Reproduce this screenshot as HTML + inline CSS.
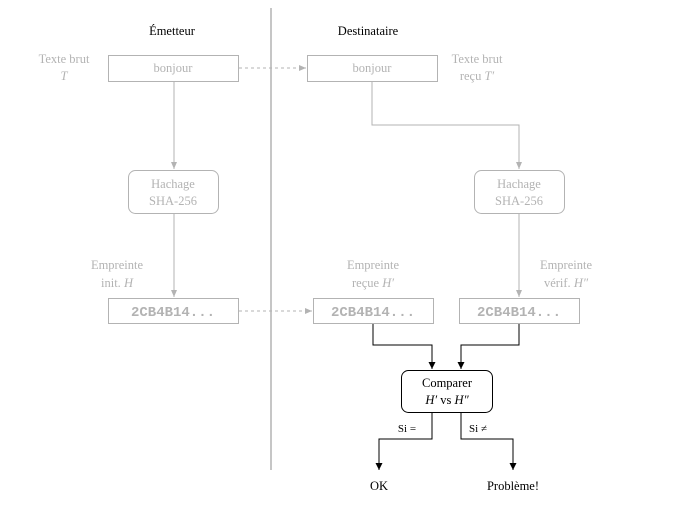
<!DOCTYPE html>
<html><head><meta charset="utf-8"><style>
html,body{margin:0;padding:0;background:#fff;}
svg, svg text{font-family:"Liberation Serif","DejaVu Serif",serif;}
svg text.mono{font-family:"Liberation Mono","DejaVu Sans Mono",monospace;}
</style></head><body>
<svg width="684" height="510" viewBox="0 0 684 510" xmlns="http://www.w3.org/2000/svg">
<defs>
<marker id="ag" markerWidth="8" markerHeight="8" refX="7" refY="4" orient="auto" markerUnits="userSpaceOnUse"><path d="M0,1 L7,4 L0,7 Z" fill="#b3b3b3"/></marker>
<marker id="ab" markerWidth="8" markerHeight="10" refX="7" refY="4" orient="auto" markerUnits="userSpaceOnUse"><path d="M0,0.5 L7,4 L0,7.5 Z" fill="#000"/></marker>
</defs>
<line x1="271" y1="8" x2="271" y2="470" stroke="#b3b3b3" stroke-width="1.5"/>
<text x="172" y="35" font-size="12.5" text-anchor="middle">Émetteur</text>
<text x="368" y="35" font-size="12.5" text-anchor="middle">Destinataire</text>
<g fill="#b3b3b3" font-size="12.5" text-anchor="middle">
<text x="64" y="63">Texte brut</text><text x="64" y="80" font-style="italic">T</text>
<text x="477" y="63">Texte brut</text><text x="477" y="80">reçu <tspan font-style="italic">T′</tspan></text>
<text x="117" y="269">Empreinte</text><text x="117" y="287">init. <tspan font-style="italic">H</tspan></text>
<text x="373" y="269">Empreinte</text><text x="373" y="287">reçue <tspan font-style="italic">H′</tspan></text>
<text x="566" y="269">Empreinte</text><text x="566" y="287">vérif. <tspan font-style="italic">H″</tspan></text>
</g>
<g fill="#fff" stroke="#b3b3b3" stroke-width="1">
<rect x="108.5" y="55.5" width="130" height="26"/>
<rect x="307.5" y="55.5" width="130" height="26"/>
<rect x="128.5" y="170.5" width="90" height="43" rx="7"/>
<rect x="474.5" y="170.5" width="90" height="43" rx="7"/>
<rect x="108.5" y="298.5" width="130" height="25"/>
<rect x="313.5" y="298.5" width="120" height="25"/>
<rect x="459.5" y="298.5" width="120" height="25"/>
</g>
<g fill="#b3b3b3" font-size="12.5" text-anchor="middle">
<text x="173" y="72">bonjour</text>
<text x="372" y="72">bonjour</text>
<text x="173" y="188">Hachage</text><text x="173" y="205">SHA-256</text>
<text x="519" y="188">Hachage</text><text x="519" y="205">SHA-256</text>
</g>
<g fill="#b3b3b3" font-size="14" font-weight="bold" text-anchor="middle">
<text class="mono" x="173" y="316">2CB4B14...</text>
<text class="mono" x="373" y="316">2CB4B14...</text>
<text class="mono" x="519" y="316">2CB4B14...</text>
</g>
<g stroke="#b3b3b3" fill="none" stroke-width="1">
<line x1="174" y1="81" x2="174" y2="169" marker-end="url(#ag)"/>
<line x1="174" y1="213" x2="174" y2="297" marker-end="url(#ag)"/>
<polyline points="372,81 372,125 519,125 519,169" marker-end="url(#ag)"/>
<line x1="519" y1="213" x2="519" y2="297" marker-end="url(#ag)"/>
<line x1="239" y1="68" x2="306" y2="68" stroke-dasharray="3,3" marker-end="url(#ag)"/>
<line x1="239" y1="311" x2="312" y2="311" stroke-dasharray="3,3" marker-end="url(#ag)"/>
</g>
<g stroke="#000" fill="none" stroke-width="1">
<polyline points="373,324 373,345 432,345 432,369" marker-end="url(#ab)"/>
<polyline points="519,324 519,345 461,345 461,369" marker-end="url(#ab)"/>
<polyline points="432,412 432,439 379,439 379,470" marker-end="url(#ab)"/>
<polyline points="461,412 461,439 513,439 513,470" marker-end="url(#ab)"/>
<rect x="401.5" y="370.5" width="91" height="42" rx="7" fill="#fff"/>
</g>
<g font-size="12.5" text-anchor="middle" fill="#000">
<text x="447" y="387">Comparer</text>
<text x="447" y="404"><tspan font-style="italic">H′</tspan> vs <tspan font-style="italic">H″</tspan></text>
<text x="407" y="432" font-size="11">Si =</text>
<text x="478" y="432" font-size="11">Si ≠</text>
<text x="379" y="490">OK</text>
<text x="513" y="490">Problème!</text>
</g>
</svg>
</body></html>
